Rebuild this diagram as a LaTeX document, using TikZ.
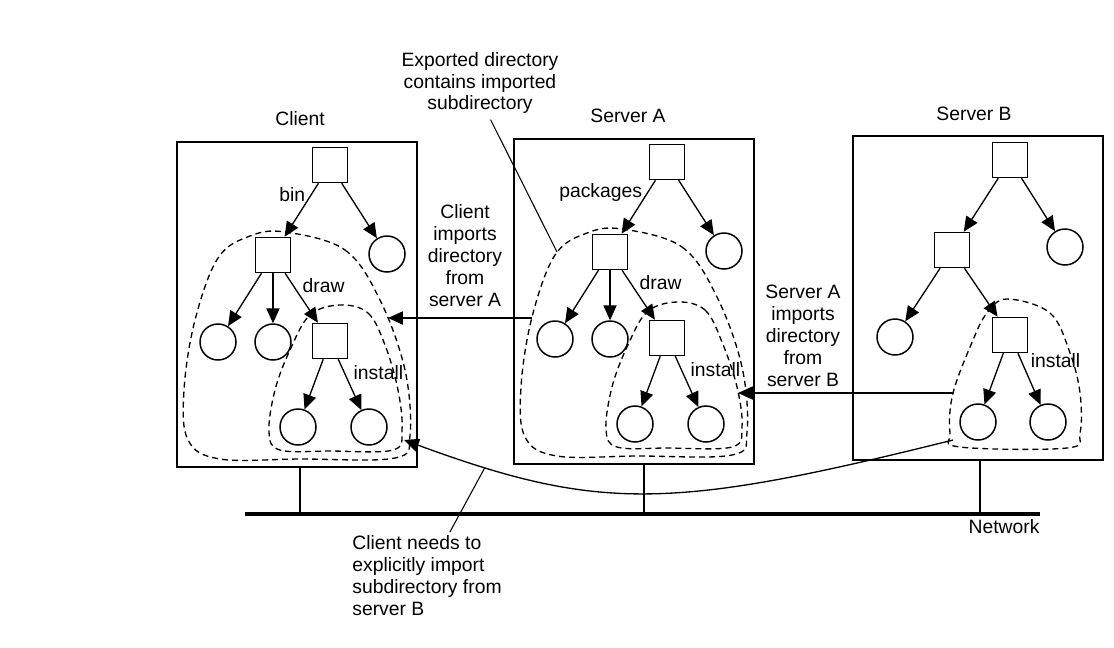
\documentclass[tikz,border=0pt]{standalone}
\usepackage{fontspec}
\setmainfont{Liberation Sans}
\usetikzlibrary{arrows.meta,positioning}

\begin{document}
\begin{tikzpicture}[
      x=0.02cm, y=-0.02cm,
      >={Triangle[length=8.5pt,width=7.5pt]},
      host/.style={draw, line width=1pt, inner sep=0pt,
        minimum width=4.8cm, minimum height=6.5cm},
      dirBox/.style={draw, line width=0.85pt, minimum size=0.7cm, inner sep=0pt},
      fileDot/.style={draw, circle, line width=0.85pt, minimum size=0.72cm, inner sep=0pt},
      link/.style={->, line width=0.75pt},
      mount/.style={line width=0.75pt, dash pattern=on 3.4pt off 2.3pt},
      txt/.style={font=\fontsize{11}{12.5}\selectfont, inner sep=0pt, align=center},
      ptr/.style={-, line width=0.6pt},
      stub/.style={line width=1.5pt}
    ]

      \useasboundingbox (0,0) rectangle (1114,647);

      % ---------- Client ----------
      \node[host] (cl-box) at (297,304.5) {};
      \node[txt] (cl-title) at (300,119) {Client};
      \node[dirBox] (cl-root) at (330,165) {};
      \node[dirBox] (cl-bin)  at (273,255) {};
      \node[fileDot] (cl-f1)  at (387,254) {};
      \node[fileDot] (cl-f2)  at (218,342) {};
      \node[fileDot] (cl-f3)  at (273,342) {};
      \node[dirBox] (cl-draw) at (330,341) {};
      \node[fileDot] (cl-f4)  at (298,427) {};
      \node[fileDot] (cl-f5)  at (369,427) {};
      \draw[link] (cl-root) -- node[txt, pos=0.22, left=3pt] {bin} (cl-bin);
      \draw[link] (cl-root) -- (cl-f1);
      \draw[link] (cl-bin) -- (cl-f2);
      \draw[link] (cl-bin) -- (cl-f3);
      \draw[link] (cl-bin) -- node[txt, pos=0.245, right=5pt] {draw} (cl-draw);
      \draw[link] (cl-draw) -- (cl-f4);
      \draw[link] (cl-draw) -- node[txt, pos=0.26, right=5pt] {install} (cl-f5);
      \draw[mount] plot[smooth cycle, tension=0.6] coordinates {(285,232) (345,250) (380,300) (405,370) (410,435) (395,458) (300,459) (220,459) (188,440) (184,390) (195,320) (218,258) (250,236)};
      \draw[mount] plot[smooth cycle, tension=0.6] coordinates {(340,305) (368,313) (385,345) (398,390) (402,430) (393,450) (330,451) (280,450) (269,432) (275,390) (290,350) (310,315)};
      \coordinate (cl-outE) at (388,318);
      \coordinate (cl-outSE) at (404,440);

      % ---------- Server A ----------
      \begin{scope}[shift={(337,-3)}]
        \node[host] (sa-box) at (297,304.5) {};
        \node[txt] (sa-title) at (291,119) {Server A};
        \node[dirBox] (sa-root) at (330,165) {};
        \node[dirBox] (sa-pkg)  at (273,255) {};
        \node[fileDot] (sa-f1)  at (387,254) {};
        \node[fileDot] (sa-f2)  at (218,342) {};
        \node[fileDot] (sa-f3)  at (273,342) {};
        \node[dirBox] (sa-draw) at (330,341) {};
        \node[fileDot] (sa-f4)  at (298,427) {};
        \node[fileDot] (sa-f5)  at (369,427) {};
        \draw[link] (sa-root) -- node[txt, pos=0.22, left=3pt] {packages} (sa-pkg);
        \draw[link] (sa-root) -- (sa-f1);
        \draw[link] (sa-pkg) -- (sa-f2);
        \draw[link] (sa-pkg) -- (sa-f3);
        \draw[link] (sa-pkg) -- node[txt, pos=0.245, right=5pt] {draw} (sa-draw);
        \draw[link] (sa-draw) -- (sa-f4);
        \draw[link] (sa-draw) -- node[txt, pos=0.26, right=5pt] {install} (sa-f5);
        \draw[mount] plot[smooth cycle, tension=0.6] coordinates {(285,232) (345,250) (380,300) (405,370) (410,435) (395,458) (300,459) (220,459) (188,440) (184,390) (195,320) (218,258) (250,236)};
        \draw[mount] plot[smooth cycle, tension=0.6] coordinates {(340,305) (368,313) (385,345) (400,390) (405,430) (395,450) (330,451) (280,450) (269,432) (275,390) (290,350) (310,315)};
        \coordinate (sa-outW) at (195,321);
        \coordinate (sa-outNW) at (220,255);
        \coordinate (sa-inE) at (401,396);
      \end{scope}

      % ---------- Server B ----------
      \begin{scope}[shift={(679,-5)}]
        \node[host, minimum width=5cm, minimum height=6.48cm] (sb-box) at (299,303) {};
        \node[txt] (sb-title) at (295,119) {Server B};
        \node[dirBox] (sb-root) at (331,165) {};
        \node[dirBox] (sb-sub)  at (273,255) {};
        \node[fileDot] (sb-f1)  at (386,252) {};
        \node[fileDot] (sb-f2)  at (216,342) {};
        \node[dirBox] (sb-inst) at (331,340) {};
        \node[fileDot] (sb-f4)  at (299,427) {};
        \node[fileDot] (sb-f5)  at (369,427) {};
        \draw[link] (sb-root) -- (sb-sub);
        \draw[link] (sb-root) -- (sb-f1);
        \draw[link] (sb-sub) -- (sb-f2);
        \draw[link] (sb-sub) -- (sb-inst);
        \draw[link] (sb-inst) -- (sb-f4);
        \draw[link] (sb-inst) -- node[txt, pos=0.15, right=5pt] {install} (sb-f5);
        \draw[mount] plot[smooth cycle, tension=0.6] coordinates {(328,304) (371,318) (391,358) (401,398) (401,438) (388,453) (281,452) (271,438) (274,398) (294,345) (308,318)};
        \coordinate (sb-inW) at (275,398);
        \coordinate (sb-inSW) at (274,445);
      \end{scope}

      % ---------- Imports ----------
      \draw[link] (sa-outW) -- (cl-outE);
      \draw[link] (sb-inW) -- (sa-inE);
      \draw[link] (sb-inSW) .. controls (672,510) and (600,512) .. (cl-outSE) coordinate[pos=0.85] (needPt);

      % ---------- Notes ----------
      \node[txt] (expNote) at (480,83) {Exported directory\\contains imported\\subdirectory};
      \draw[ptr] ([xshift=6pt,yshift=-3pt]expNote.south) -- (sa-outNW);
      \node[txt] (impA) at (465,256) {Client\\imports\\directory\\from\\server A};
      \node[txt] (impB) at (803,336) {Server A\\imports\\directory\\from\\server B};
      \node[txt, align=left, anchor=west] (needNote) at (352,576) {Client needs to\\explicitly import\\subdirectory from\\server B};
      \draw[ptr] ([xshift=13pt,yshift=2pt]needNote.north) -- (needPt);

      % ---------- Network ----------
      \coordinate (netW) at (245,514);
      \coordinate (netE) at (1040,514);
      \draw[line width=2.4pt] (netW) -- (netE);
      \node[txt] (netLbl) at (1004,527) {Network};
      \draw[stub] ([xshift=1.7pt]cl-box.south) -- ([xshift=1.7pt]cl-box.south |- netW);
      \draw[stub] ([xshift=5.7pt]sa-box.south) -- ([xshift=5.7pt]sa-box.south |- netW);
      \draw[stub] ([xshift=1.1pt]sb-box.south) -- ([xshift=1.1pt]sb-box.south |- netW);

    \end{tikzpicture}
\end{document}
